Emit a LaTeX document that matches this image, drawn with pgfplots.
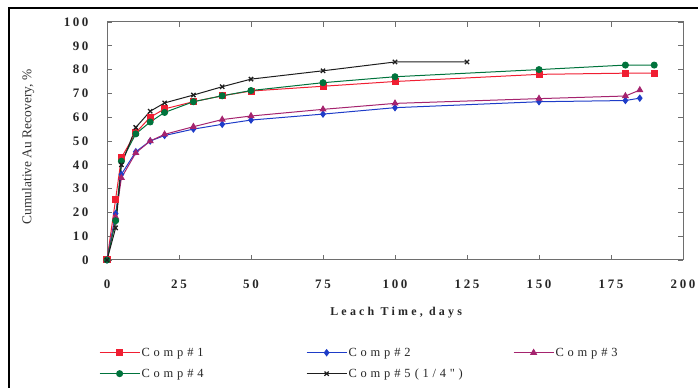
\documentclass[border=0pt]{standalone}
\usepackage{fontspec}
\setmainfont{Liberation Serif}
\newfontfamily\spaced[LetterSpace=30]{Liberation Serif}
\newfontfamily\xlabfont[LetterSpace=27]{Liberation Serif}
\newfontfamily\tickfont[LetterSpace=20]{Liberation Serif}
\usepackage{pgfplots}
\pgfplotsset{compat=1.18}
\definecolor{cred}{RGB}{240,30,50}
\definecolor{cblue}{RGB}{30,60,200}
\definecolor{cmag}{RGB}{165,35,110}
\definecolor{cgreen}{RGB}{0,115,60}
\definecolor{cblack}{RGB}{30,30,30}
\definecolor{axgray}{RGB}{110,110,110}
\begin{document}
\begin{tikzpicture}
\path[use as bounding box] (0,0) rectangle (698bp,388bp);
\draw[line width=1.2bp, black] (9bp,0) -- (9bp,380bp) -- (698bp,380bp);
\begin{axis}[
  at={(107bp,128bp)}, anchor=south west,
  scale only axis, width=576bp, height=238bp,
  xmin=0, xmax=200, ymin=0, ymax=100,
  xtick={0,25,...,200}, ytick={0,10,...,100},
  tick align=inside, major tick length=5bp,
  axis line style={axgray, line width=1bp},
  tick style={axgray, line width=0.8bp},
  /pgf/number format/assume math mode=true,
  tick label style={font=\tickfont\fontsize{13}{15}\selectfont\bfseries, text=black!85},
  xticklabel style={anchor=center, yshift=-24bp},
  yticklabel style={anchor=east, xshift=-15bp},
  xlabel={Leach Time, days},
  xlabel style={font=\xlabfont\fontsize{12}{14}\selectfont\bfseries, at={(axis description cs:0.502,-0.223)}, anchor=center, text=black!85},
  ylabel={Cumulative Au Recovery, \%},
  ylabel style={font=\fontsize{13.5}{15}\selectfont, at={(axis description cs:-0.137,0.475)}, anchor=center, rotate=0, text=black!80},
  legend columns=3,
  legend style={at={(axis description cs:-0.014,-0.362)}, anchor=north west, draw=none, fill=none,
    font=\spaced\fontsize{12.5}{14}\selectfont, text=black!85,
    row sep=8bp, inner sep=0pt,
    nodes={text width=163bp, inner sep=1.5bp, align=left}},
  legend cell align=left,
  legend image code/.code={\draw[mark repeat=2,mark phase=2] plot coordinates {(0bp,0bp) (20bp,0bp) (40bp,0bp)};},
  every axis plot/.append style={line width=1bp},
]
\addplot[cred, mark=square*, mark size=3bp] coordinates {
(0,0)(3,25.6)(5,43)(10,53.5)(15,60)(20,63.5)(30,66.5)(40,69)(50,71)(75,73)(100,75)(150,78)(180,78.5)(190,78.5)};
\addlegendentry{Comp \#1}
\addplot[cblue, mark=diamond*, mark size=3bp] coordinates {
(0,0)(3,19.5)(5,36)(10,45.5)(15,50)(20,52.3)(30,55)(40,57)(50,58.8)(75,61.3)(100,64)(150,66.5)(180,67)(185,68)};
\addlegendentry{Comp \#2}
\addplot[cmag, mark=triangle*, mark size=3.2bp] coordinates {
(0,0)(3,18)(5,34.5)(10,45)(15,50)(20,52.8)(30,56)(40,59)(50,60.5)(75,63.3)(100,65.8)(150,67.8)(180,68.9)(185,71.4)};
\addlegendentry{Comp \#3}
\addplot[cgreen, mark=*, mark size=3bp] coordinates {
(0,0)(3,16.5)(5,41.5)(10,53)(15,58)(20,62)(30,66.5)(40,69)(50,71.2)(75,74.5)(100,77)(150,80)(180,81.9)(190,81.9)};
\addlegendentry{Comp \#4}
\addplot[cblack, mark=x, mark size=3bp, mark options={line width=1.3bp}] coordinates {
(0,0)(3,13.5)(5,40)(10,55.7)(15,62.5)(20,66)(30,69.3)(40,72.8)(50,76)(75,79.5)(100,83.2)(125,83.2)};
\addlegendentry{Comp \#5 (1/4")}
\end{axis}
\end{tikzpicture}
\end{document}
